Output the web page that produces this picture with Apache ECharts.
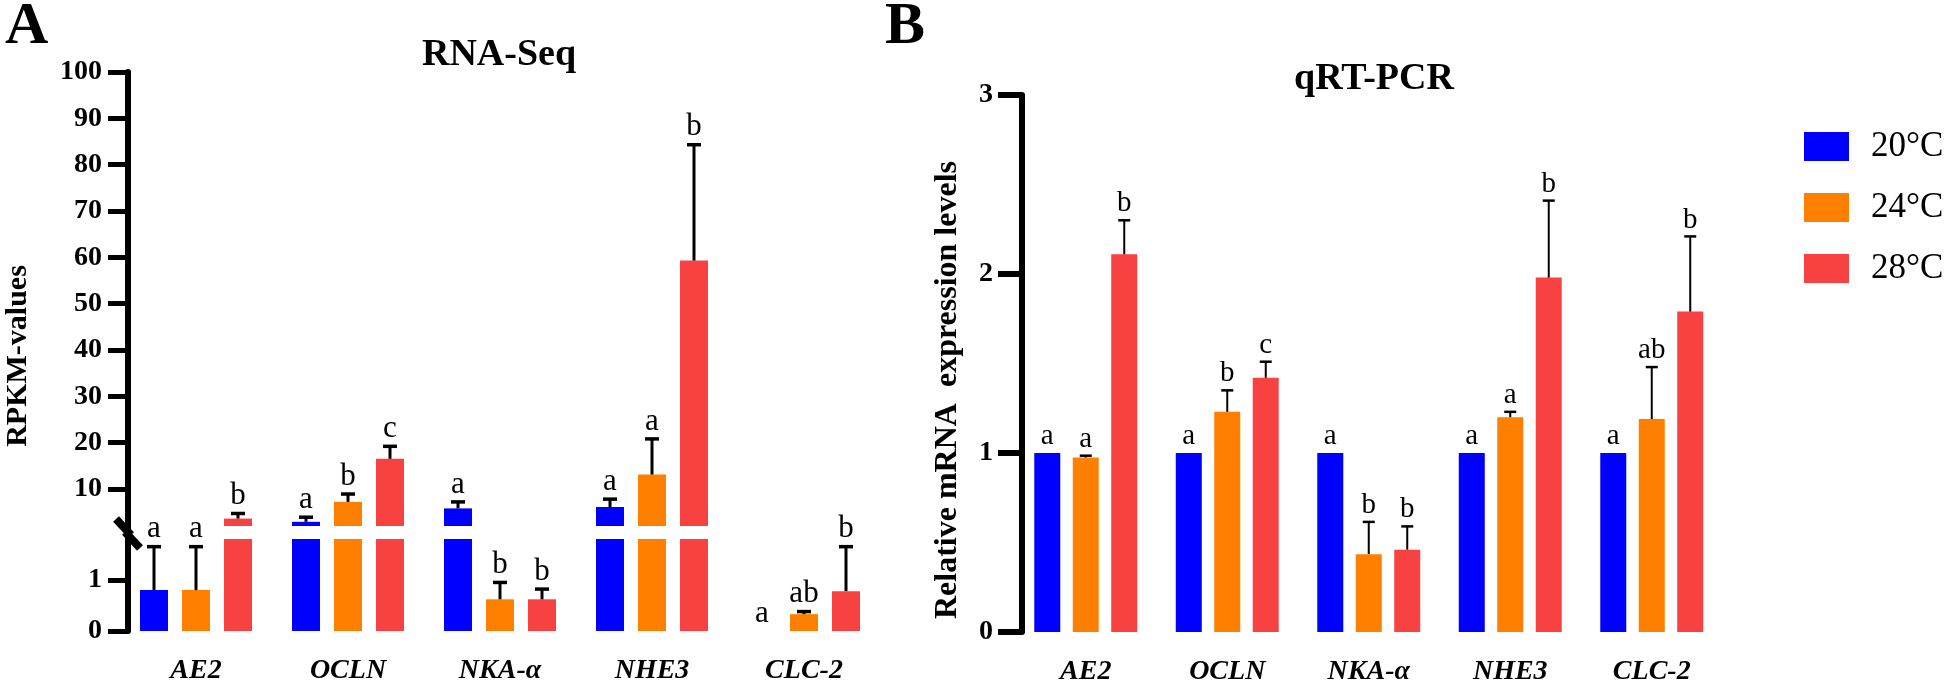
<!DOCTYPE html>
<html><head><meta charset="utf-8">
<script src="https://cdn.jsdelivr.net/npm/echarts@6/dist/echarts.min.js"></script>
<style>html,body{margin:0;padding:0;background:#fff}#c{width:1944px;height:691px}</style>
</head><body><div id="c"></div>
<script>
// ---------------- data ----------------
const categories = ['AE2', 'OCLN', 'NKA-α', 'NHE3', 'CLC-2'];
const temps = ['20°C', '24°C', '28°C'];

// RNA-Seq (RPKM values), mean and SD
const rnaMean20 = [0.8, 2.9, 5.8, 6.1, 0];
const rnaSd20   = [0.85, 1.0, 1.4, 1.7, 0];
const rnaMean24 = [0.8, 7.2, 0.62, 13.1, 0.33];
const rnaSd24   = [0.85, 1.7, 0.33, 7.7, 0.05];
const rnaMean28 = [3.6, 16.5, 0.62, 59.3, 0.78];
const rnaSd28   = [1.1, 2.7, 0.2, 25.0, 0.87];
const rnaLetters20 = ['a', 'a', 'a', 'a', 'a'];
const rnaLetters24 = ['a', 'b', 'b', 'a', 'ab'];
const rnaLetters28 = ['b', 'c', 'b', 'b', 'b'];
const rnaUpperTicks = [10, 20, 30, 40, 50, 60, 70, 80, 90, 100];
const rnaLowerTicks = [0, 1];

// qRT-PCR relative expression, mean and SD
const qpcrMean20 = [1, 1, 1, 1, 1];
const qpcrSd20   = [0, 0, 0, 0, 0];
const qpcrMean24 = [0.975, 1.23, 0.435, 1.2, 1.19];
const qpcrSd24   = [0.01, 0.12, 0.18, 0.03, 0.29];
const qpcrMean28 = [2.11, 1.42, 0.46, 1.98, 1.79];
const qpcrSd28   = [0.19, 0.09, 0.13, 0.43, 0.42];
const qpcrLetters20 = ['a', 'a', 'a', 'a', 'a'];
const qpcrLetters24 = ['a', 'b', 'b', 'a', 'ab'];
const qpcrLetters28 = ['b', 'c', 'b', 'b', 'b'];
const qpcrTicks = [0, 1, 2, 3];

// ---------------- style / layout ----------------
const FONT = '"Liberation Serif", "Times New Roman", serif';
const colors = ['#0000FF', '#FF8000', '#F84141'];
const UPPER_MIN = 2, UPPER_MAX = 100, LOWER_MAX = 1.8;
const A = { left: 120, width: 760, upTop: 72, upBottom: 526, lowTop: 539, lowBottom: 631, axisX: 128 };
const B = { left: 1015, width: 707.5, top: 95, bottom: 632, axisX: 1022 };

const rnaMeans = [rnaMean20, rnaMean24, rnaMean28];
const rnaSds = [rnaSd20, rnaSd24, rnaSd28];
const rnaLetters = [rnaLetters20, rnaLetters24, rnaLetters28];
const qpcrMeans = [qpcrMean20, qpcrMean24, qpcrMean28];
const qpcrSds = [qpcrSd20, qpcrSd24, qpcrSd28];
const qpcrLetters = [qpcrLetters20, qpcrLetters24, qpcrLetters28];

function errSeries(name, xi, yi, means, sds, letters, s, step, capW, lw, fs, filter) {
  const data = [];
  means.forEach((m, i) => { if (filter(m)) data.push([i, m, m + sds[i]]); });
  return {
    type: 'custom', name: name, xAxisIndex: xi, yAxisIndex: yi, z: 5, silent: true,
    data: data,
    renderItem: function (params, api) {
      const ci = api.value(0), m = api.value(1), top = api.value(2);
      const base = api.coord([ci, m]);
      const t = api.coord([ci, top]);
      const x = base[0] + (s - 1) * step;
      const ch = [];
      if (top > m) {
        ch.push({ type: 'line', shape: { x1: x, y1: base[1], x2: x, y2: t[1] }, style: { stroke: '#000', lineWidth: lw } });
        ch.push({ type: 'line', shape: { x1: x - capW / 2, y1: t[1], x2: x + capW / 2, y2: t[1] }, style: { stroke: '#000', lineWidth: lw + 0.5 } });
      }
      ch.push({ type: 'text', x: x, y: t[1] - 2, style: { text: letters[ci], font: fs + 'px ' + FONT, textAlign: 'center', textVerticalAlign: 'bottom', fill: '#000' } });
      return { type: 'group', children: ch };
    }
  };
}

const series = [];
for (let s = 0; s < 3; s++) {
  series.push({ type: 'bar', name: temps[s], xAxisIndex: 0, yAxisIndex: 0, barWidth: 28, barGap: '50%',
    itemStyle: { color: colors[s] }, clip: true,
    data: rnaMeans[s].map(v => v >= UPPER_MIN ? v : '-') });
  series.push({ type: 'bar', name: temps[s], xAxisIndex: 1, yAxisIndex: 1, barWidth: 28, barGap: '50%',
    itemStyle: { color: colors[s] }, clip: true,
    data: rnaMeans[s].map(v => v) });
  series.push({ type: 'bar', name: temps[s], xAxisIndex: 2, yAxisIndex: 2, barWidth: 26, barGap: '48%',
    itemStyle: { color: colors[s] },
    data: qpcrMeans[s].map(v => v) });
}
for (let s = 0; s < 3; s++) {
  series.push(errSeries('errAU' + s, 0, 0, rnaMeans[s], rnaSds[s], rnaLetters[s], s, 42, 14, 3, 31, m => m >= UPPER_MIN));
  series.push(errSeries('errAL' + s, 1, 1, rnaMeans[s], rnaSds[s], rnaLetters[s], s, 42, 14, 3, 31, m => m < UPPER_MIN));
  series.push(errSeries('errB' + s, 2, 2, qpcrMeans[s], qpcrSds[s], qpcrLetters[s], s, 38.5, 12, 2, 29, m => true));
}

const tickLabel = { color: '#000', fontFamily: FONT, fontWeight: 'bold', fontSize: 28 };
const xLabel = { color: '#000', fontFamily: FONT, fontWeight: 'bold', fontStyle: 'italic', fontSize: 28, margin: 26 };

const option = {
  animation: false,
  backgroundColor: '#fff',
  title: [
    { text: 'A', left: 0, top: -8, textStyle: { fontFamily: FONT, fontWeight: 'bold', fontSize: 60, color: '#000' } },
    { text: 'RNA-Seq', left: 494, top: 31, textAlign: 'center', textStyle: { fontFamily: FONT, fontWeight: 'bold', fontSize: 38, color: '#000' } },
    { text: 'B', left: 880, top: -8, textStyle: { fontFamily: FONT, fontWeight: 'bold', fontSize: 60, color: '#000' } },
    { text: 'qRT-PCR', left: 1369, top: 55, textAlign: 'center', textStyle: { fontFamily: FONT, fontWeight: 'bold', fontSize: 38, color: '#000' } }
  ],
  legend: {
    data: temps, orient: 'vertical', left: 1799, top: 124,
    itemWidth: 45, itemHeight: 29, itemGap: 26, icon: 'rect',
    textStyle: { fontFamily: FONT, fontSize: 35, color: '#000', lineHeight: 29, padding: [0, 0, 0, 17] }
  },
  grid: [
    { left: A.left, width: A.width, top: A.upTop, height: A.upBottom - A.upTop, containLabel: false, outerBoundsMode: 'none' },
    { left: A.left, width: A.width, top: A.lowTop, height: A.lowBottom - A.lowTop, containLabel: false, outerBoundsMode: 'none' },
    { left: B.left, width: B.width, top: B.top, height: B.bottom - B.top, containLabel: false, outerBoundsMode: 'none' }
  ],
  xAxis: [
    { type: 'category', gridIndex: 0, data: categories, show: false },
    { type: 'category', gridIndex: 1, data: categories, axisLine: { show: false }, axisTick: { show: false }, axisLabel: xLabel },
    { type: 'category', gridIndex: 2, data: categories, axisLine: { show: false }, axisTick: { show: false }, axisLabel: xLabel }
  ],
  yAxis: [
    { type: 'value', gridIndex: 0, min: UPPER_MIN, max: UPPER_MAX, offset: A.left - A.axisX,
      axisLine: { show: true, lineStyle: { color: '#000', width: 6 } },
      axisTick: { show: true, length: 20, lineStyle: { color: '#000', width: 5 }, customValues: rnaUpperTicks },
      axisLabel: Object.assign({ margin: 26, customValues: rnaUpperTicks }, tickLabel),
      splitLine: { show: false } },
    { type: 'value', gridIndex: 1, min: 0, max: LOWER_MAX, offset: A.left - A.axisX,
      axisLine: { show: true, lineStyle: { color: '#000', width: 6 } },
      axisTick: { show: true, length: 20, lineStyle: { color: '#000', width: 5 }, customValues: rnaLowerTicks },
      axisLabel: Object.assign({ margin: 26, customValues: rnaLowerTicks }, tickLabel),
      splitLine: { show: false } },
    { type: 'value', gridIndex: 2, min: 0, max: 3, interval: 1, offset: B.left - B.axisX,
      axisLine: { show: true, lineStyle: { color: '#000', width: 6 } },
      axisTick: { show: true, length: 24, lineStyle: { color: '#000', width: 6 } },
      axisLabel: Object.assign({ margin: 29 }, tickLabel),
      splitLine: { show: false } }
  ],
  graphic: [
    { type: 'text', x: 18, y: 356, rotation: Math.PI / 2,
      style: { text: 'RPKM-values', font: 'bold 30px ' + FONT, textAlign: 'center', textVerticalAlign: 'middle', fill: '#000' } },
    { type: 'text', x: 948, y: 390, rotation: Math.PI / 2,
      style: { text: 'Relative mRNA  expression levels', font: 'bold 32px ' + FONT, textAlign: 'center', textVerticalAlign: 'middle', fill: '#000' } },
    { type: 'line', shape: { x1: A.axisX, y1: A.upBottom, x2: A.axisX, y2: A.lowTop }, style: { stroke: '#000', lineWidth: 6 } },
    { type: 'line', shape: { x1: 116, y1: 519, x2: 131, y2: 535 }, style: { stroke: '#000', lineWidth: 8 } },
    { type: 'line', shape: { x1: 125, y1: 532, x2: 140, y2: 548 }, style: { stroke: '#000', lineWidth: 8 } }
  ],
  series: series
};

const chart = echarts.init(document.getElementById('c'));
chart.setOption(option);
</script></body></html>
